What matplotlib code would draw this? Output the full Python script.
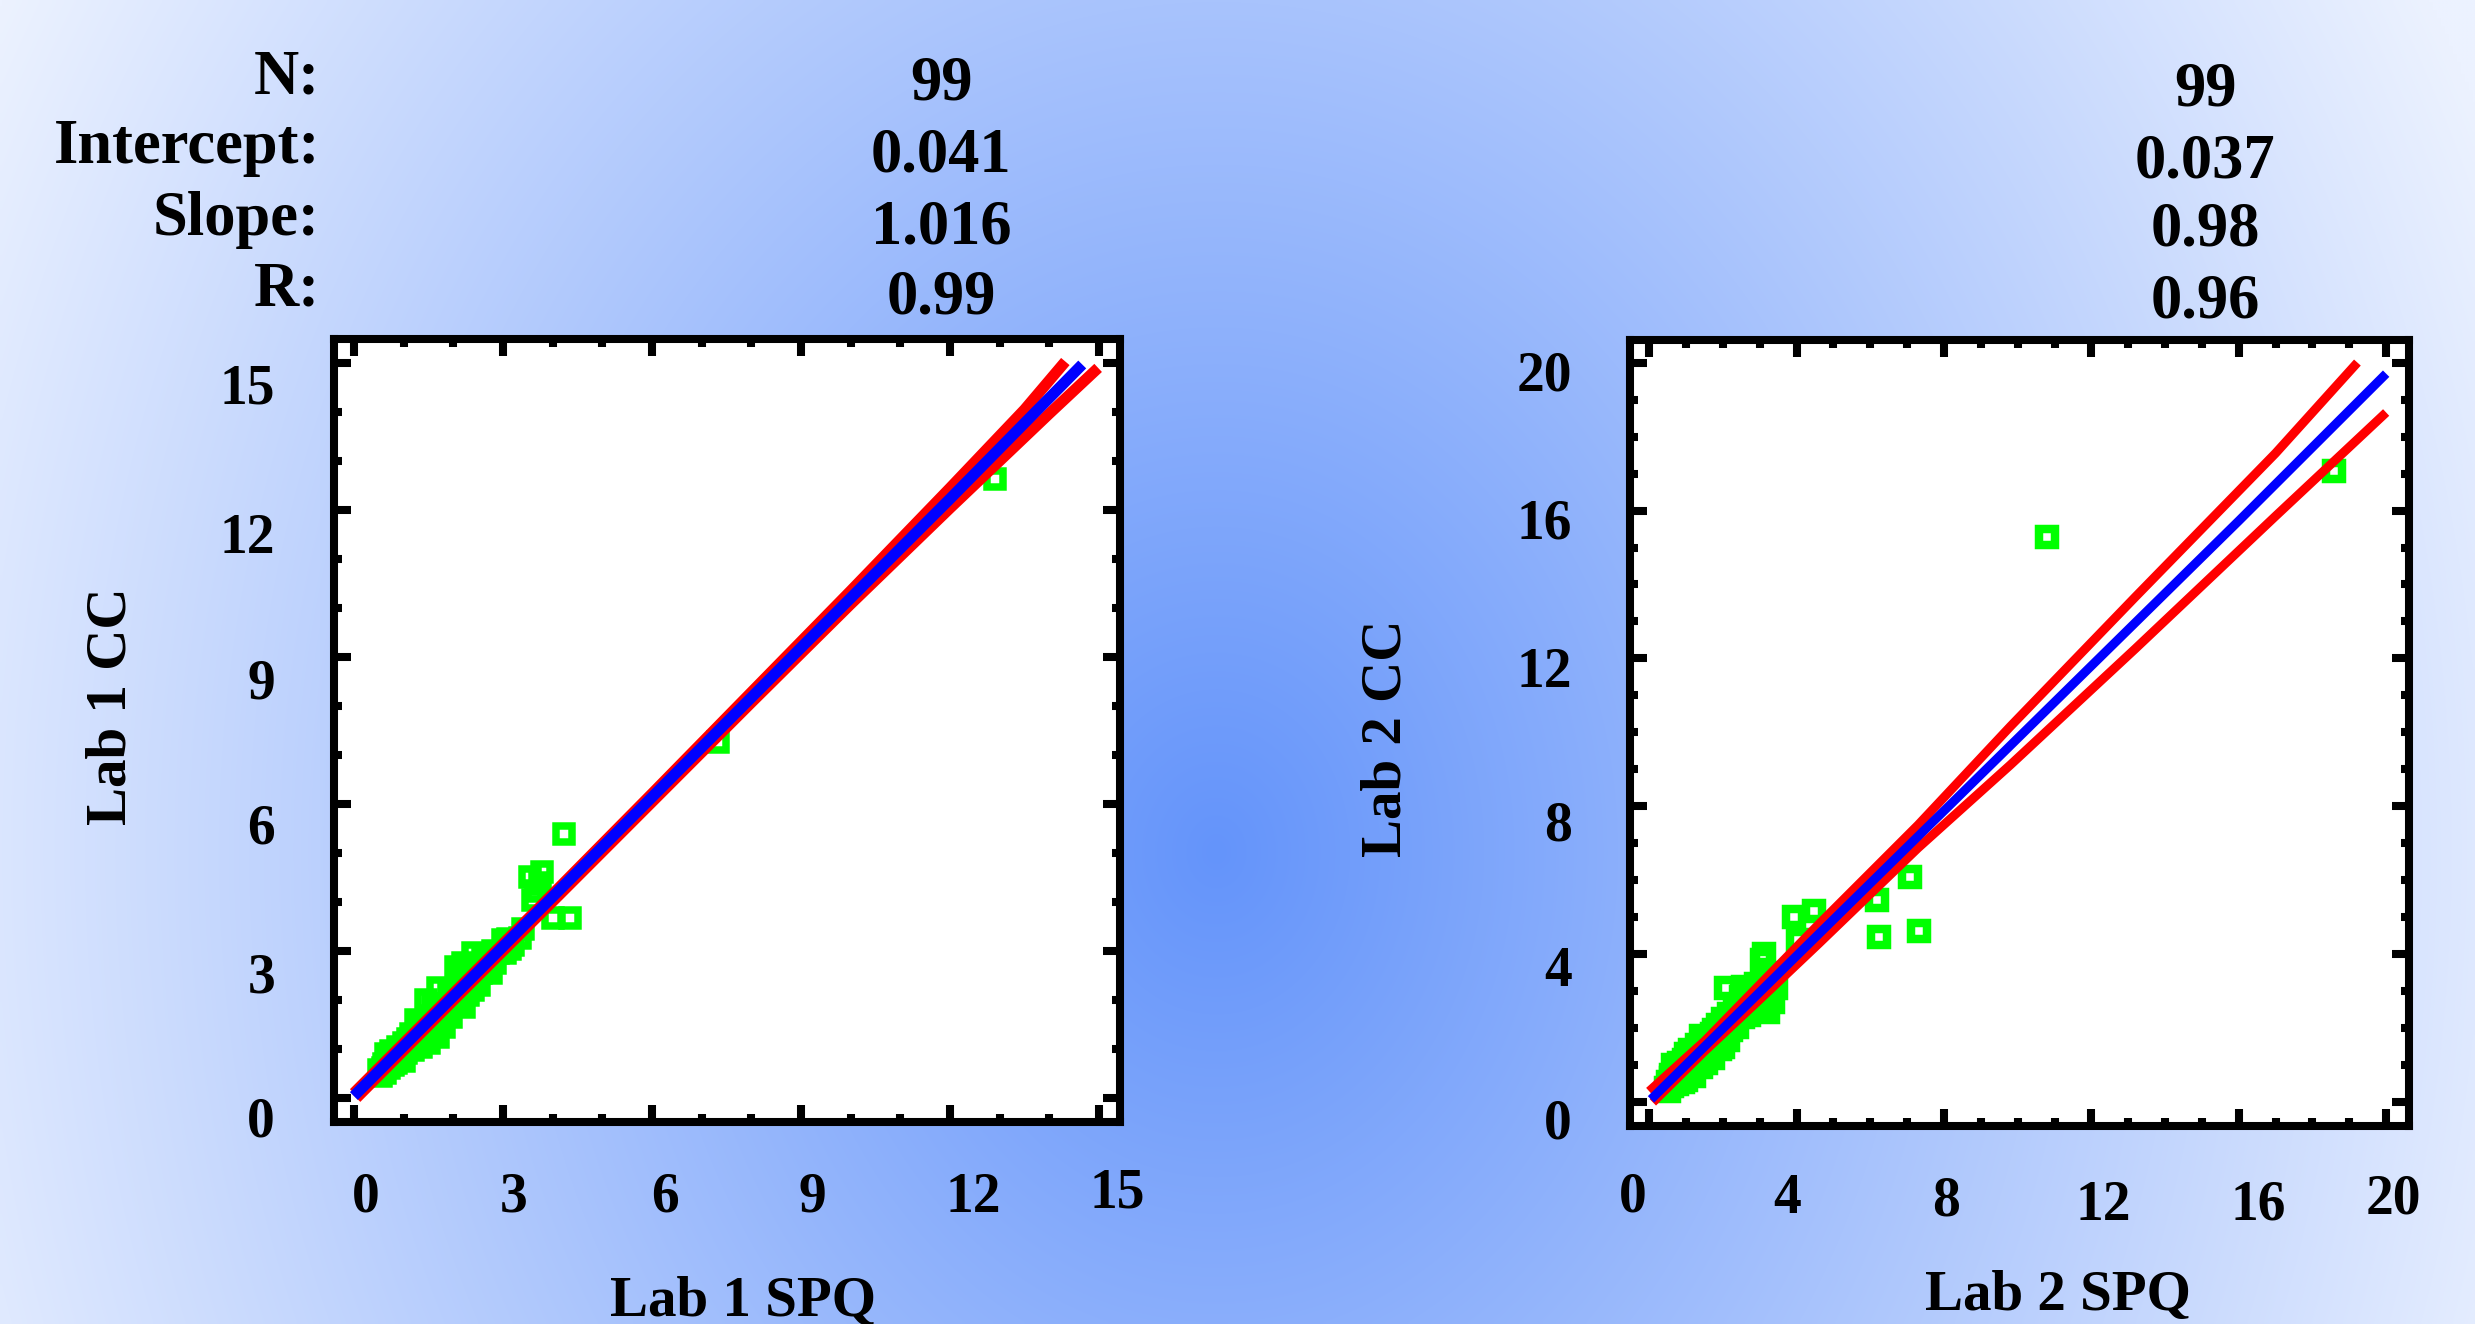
import numpy as np
import matplotlib
matplotlib.use("Agg")
import matplotlib.pyplot as plt
from matplotlib.ticker import MultipleLocator

# ------------------------------------------------------------------ data
stat_names = ["N:", "Intercept:", "Slope:", "R:"]
lab1_stats = ["99", "0.041", "1.016", "0.99"]
lab2_stats = ["99", "0.037", "0.98", "0.96"]

lab1_ticks = [0, 3, 6, 9, 12, 15]
lab2_ticks = [0, 4, 8, 12, 16, 20]

lab1_spq = [0.50, 0.55, 0.60, 0.62, 0.68, 0.70, 0.75, 0.78, 0.80, 0.85,
            0.88, 0.90, 0.95, 0.98, 1.00, 1.05, 1.08, 1.10, 1.15, 1.18,
            1.20, 1.25, 1.25, 1.30, 1.35, 1.38, 1.40, 1.45, 1.48, 1.50,
            1.52, 1.55, 1.60, 1.45, 1.65, 1.70, 1.72, 1.75, 1.80, 1.82,
            1.70, 1.90, 1.92, 1.95, 2.00, 2.05, 2.05, 2.10, 2.20, 2.15,
            2.20, 2.22, 2.25, 2.30, 2.32, 2.40, 2.40, 2.45, 2.50, 2.52,
            2.55, 2.60, 2.65, 2.70, 2.75, 2.80, 2.85, 2.90, 3.00, 3.05,
            3.10, 3.15, 3.20, 3.34, 3.40, 0.65, 1.00, 1.60, 2.10, 0.58,
            0.72, 0.92, 1.12, 1.32, 1.42, 1.68, 1.88, 2.28, 2.62,
            4.23, 4.01, 4.35, 3.54, 3.78, 3.74, 3.60, 3.66, 7.33, 12.90]
lab1_cc = [0.58, 0.45, 0.70, 0.52, 0.80, 0.62, 0.95, 0.68, 0.85, 0.72,
           1.05, 0.80, 1.00, 0.85, 1.12, 0.92, 1.20, 1.02, 1.30, 0.98,
           1.18, 1.10, 1.60, 1.22, 1.05, 1.50, 1.30, 1.18, 1.60, 1.40,
           1.12, 1.55, 1.35, 2.00, 1.48, 1.25, 1.80, 1.60, 1.70, 1.45,
           2.25, 1.80, 2.20, 1.65, 2.05, 2.68, 1.88, 2.15, 2.75, 1.95,
           2.25, 1.85, 2.50, 2.10, 2.35, 2.95, 2.20, 2.45, 2.70, 2.30,
           2.55, 2.92, 2.62, 2.80, 2.55, 3.00, 2.75, 2.95, 3.22, 2.95,
           3.25, 3.05, 3.12, 3.27, 3.45, 0.90, 0.75, 1.90, 2.55, 0.62,
           0.78, 0.95, 1.15, 1.35, 1.42, 1.72, 1.92, 2.35, 2.68,
           5.38, 3.68, 3.68, 4.50, 4.62, 4.39, 4.04, 4.22, 7.27, 12.63]

lab1_fit_x = [0.0, 3.0, 6.0, 9.0, 12.0, 14.66]
lab1_fit_y = [0.04, 3.09, 6.14, 9.19, 12.23, 14.97]
lab1_upper_x = [0.0, 2.0, 4.0, 6.0, 8.0, 10.0, 12.0, 13.5, 14.32]
lab1_upper_y = [0.10, 2.13, 4.16, 6.21, 8.28, 10.35, 12.45, 14.05, 15.03]
lab1_lower_x = [0.05, 2.0, 4.0, 6.0, 8.0, 10.0, 12.0, 14.0, 14.98]
lab1_lower_y = [0.0, 1.99, 4.01, 6.04, 8.07, 10.08, 12.04, 13.97, 14.90]

lab2_spq = [0.45, 0.50, 0.55, 0.60, 0.62, 0.68, 0.70, 0.75, 0.78, 0.82,
            0.85, 0.88, 0.92, 0.95, 0.98, 1.00, 1.05, 1.08, 1.10, 1.15,
            1.18, 1.22, 1.25, 1.28, 1.30, 1.35, 1.38, 1.42, 1.45, 1.48,
            1.52, 1.55, 1.58, 1.62, 1.65, 1.70, 1.72, 1.76, 1.80, 1.85,
            1.88, 1.92, 1.95, 2.00, 2.04, 2.09, 2.10, 2.14, 2.18, 2.22,
            2.28, 2.32, 2.38, 2.42, 2.48, 2.54, 2.55, 2.60, 2.65, 2.70,
            2.75, 2.80, 2.85, 2.90, 2.95, 3.00, 3.06, 3.10, 3.15, 3.23,
            3.28, 3.35, 3.40, 3.45, 0.65, 1.00, 1.40, 2.00, 0.58, 0.72,
            0.95, 1.12, 1.32, 1.50, 1.68, 1.90, 2.20, 2.45, 3.12, 3.20,
            3.92, 4.46, 6.18, 7.08, 6.24, 7.33, 10.80, 18.58, 4.05]
lab2_cc = [0.40, 0.55, 0.30, 0.75, 0.45, 0.62, 0.90, 0.50, 0.80, 1.05,
           0.65, 0.95, 0.55, 1.15, 0.85, 1.30, 0.75, 1.05, 1.42, 0.90,
           1.20, 0.70, 1.35, 1.00, 1.55, 1.15, 1.40, 0.95, 1.62, 1.25,
           1.45, 1.05, 1.75, 1.35, 1.60, 1.85, 1.20, 1.96, 1.55, 1.75,
           2.10, 1.45, 1.95, 2.25, 1.70, 3.09, 2.05, 1.69, 2.40, 1.95,
           2.20, 2.60, 2.05, 2.45, 2.85, 3.13, 2.30, 2.60, 2.95, 2.35,
           2.70, 2.95, 2.50, 3.20, 2.75, 2.55, 3.85, 3.00, 3.35, 2.45,
           2.86, 2.70, 3.50, 3.10, 1.00, 0.60, 1.80, 1.50, 0.65, 0.70,
           0.95, 1.15, 1.28, 1.52, 1.65, 1.85, 2.15, 2.40, 4.02, 3.15,
           5.02, 5.16, 5.47, 6.10, 4.48, 4.64, 15.29, 17.06, 4.39]

lab2_fit_x = [0.05, 4.0, 8.0, 12.0, 16.0, 20.0]
lab2_fit_y = [0.08, 3.96, 7.88, 11.80, 15.72, 19.70]
lab2_upper_x = [0.0, 1.5, 3.0, 4.6, 7.3, 9.8, 13.2, 17.0, 19.22]
lab2_upper_y = [0.30, 1.65, 3.18, 4.81, 7.50, 10.16, 13.67, 17.55, 20.0]
lab2_lower_x = [0.10, 1.5, 3.0, 4.6, 7.3, 9.8, 13.2, 17.0, 20.0]
lab2_lower_y = [0.0, 1.38, 2.78, 4.29, 6.88, 9.12, 12.27, 15.85, 18.65]

# ------------------------------------------------------------------ layout / style
W, H, DPI = 2475, 1324, 100
FONT = "Liberation Serif"
PT = 72.0 / DPI  # points per pixel


def fxp(px):
    return px / W


def fyp(py):
    return 1.0 - py / H


fig = plt.figure(figsize=(W / DPI, H / DPI), dpi=DPI)

# background gradient
bg = fig.add_axes([0, 0, 1, 1], zorder=-10)
gx, gy = np.meshgrid(np.arange(0, W, 4), np.arange(0, H, 4))
r = np.sqrt(((gx - 1215) / 1400.0) ** 2 + ((gy - 850) / 1700.0) ** 2)
t = np.clip(r, 0, 1)
c0 = np.array([100, 148, 250]) / 255.0
c1 = np.array([236, 242, 255]) / 255.0
img = c0[None, None, :] * (1 - t[..., None]) + c1[None, None, :] * t[..., None]
bg.imshow(img, extent=[0, 1, 0, 1], aspect="auto", interpolation="bilinear")
bg.set_axis_off()


def make_panel(rect_px, xlim, ylim, ticks, x_lab_dx, x_lab_base, y_gap, y_lab_base,
               xs, ys, fit, upper, lower, lw, ms, mew):
    l, t_, r_, b = rect_px
    ax = fig.add_axes([fxp(l), fyp(b), (r_ - l) / W, (b - t_) / H])
    ax.set_facecolor("white")
    ax.set_xlim(*xlim)
    ax.set_ylim(*ylim)
    ax.set_xticks(ticks)
    ax.set_yticks(ticks)
    ax.xaxis.set_minor_locator(MultipleLocator(1))
    ax.yaxis.set_minor_locator(MultipleLocator(1))
    ax.tick_params(which="both", direction="in", top=True, right=True,
                   labelbottom=False, labelleft=False, width=5.8, color="black")
    ax.tick_params(which="major", length=12)
    ax.tick_params(which="minor", length=6)
    for s in ax.spines.values():
        s.set_linewidth(5.8)
        s.set_color("black")

    ax.plot(xs, ys, ls="none", marker="s", ms=ms, mew=mew, mfc="none",
            mec="#00ff00", zorder=2, clip_on=False)
    ax.plot(upper[0], upper[1], color="#ff0000", lw=lw, zorder=3,
            solid_capstyle="butt")
    ax.plot(lower[0], lower[1], color="#ff0000", lw=lw, zorder=3,
            solid_capstyle="butt")
    ax.plot(fit[0], fit[1], color="#0000ff", lw=lw, zorder=4,
            solid_capstyle="butt")

    for v, dx, dy in zip(ticks, x_lab_dx, x_lab_base):
        ax.annotate(str(v), xy=(v, 0), xycoords=ax.get_xaxis_transform(),
                    xytext=(dx * PT, -dy * PT), textcoords="offset points",
                    ha="center", va="baseline", fontsize=40,
                    fontweight="bold", family=FONT, annotation_clip=False)
    for v, dy in zip(ticks, y_lab_base):
        ax.annotate(str(v), xy=(0, v), xycoords=ax.get_yaxis_transform(),
                    xytext=(-y_gap * PT, -dy * PT), textcoords="offset points",
                    ha="right", va="baseline", fontsize=40,
                    fontweight="bold", family=FONT, annotation_clip=False)
    return ax


ax1 = make_panel((334, 339, 1120, 1122), (-0.40, 15.42), (-0.49, 15.49), lab1_ticks,
                 [12, 11, 13, 11, 23, 18], [90, 90, 90, 90, 90, 85],
                 59, [39, 42, 40, 41, 43, 40],
                 lab1_spq, lab1_cc,
                 (lab1_fit_x, lab1_fit_y), (lab1_upper_x, lab1_upper_y),
                 (lab1_lower_x, lab1_lower_y), lw=8.0, ms=10.9, mew=5.4)

ax2 = make_panel((1630, 340, 2409, 1126), (-0.52, 20.62), (-0.64, 20.61), lab2_ticks,
                 [-16, -9, 2, 12, 19, 7], [86, 87, 89, 94, 94, 87],
                 58, [36, 32, 34, 29, 28, 28],
                 lab2_spq, lab2_cc,
                 (lab2_fit_x, lab2_fit_y), (lab2_upper_x, lab2_upper_y),
                 (lab2_lower_x, lab2_lower_y), lw=6.5, ms=11.9, mew=6.1)

# header statistics
txt = dict(fontsize=45, fontweight="bold", family=FONT, va="baseline")
for name, base in zip(stat_names, [93, 163, 235, 305]):
    fig.text(fxp(320), fyp(base), name, ha="right", **txt)
for val, base in zip(lab1_stats, [100, 172, 243, 313]):
    fig.text(fxp(941), fyp(base), val, ha="center", **txt)
for val, base in zip(lab2_stats, [105, 177, 246, 318]):
    fig.text(fxp(2205), fyp(base), val, ha="center", **txt)

# axis titles
lab = dict(fontsize=41, fontweight="bold", family=FONT)
fig.text(fxp(743), fyp(1316), "Lab 1 SPQ", ha="center", va="baseline", **lab)
fig.text(fxp(2058), fyp(1310), "Lab 2 SPQ", ha="center", va="baseline", **lab)
fig.text(fxp(112), fyp(706), "Lab 1 CC", rotation=90, ha="center", va="center", **lab)
fig.text(fxp(1386), fyp(738), "Lab 2 CC", rotation=90, ha="center", va="center", **lab)

fig.savefig("out.png", dpi=DPI)
